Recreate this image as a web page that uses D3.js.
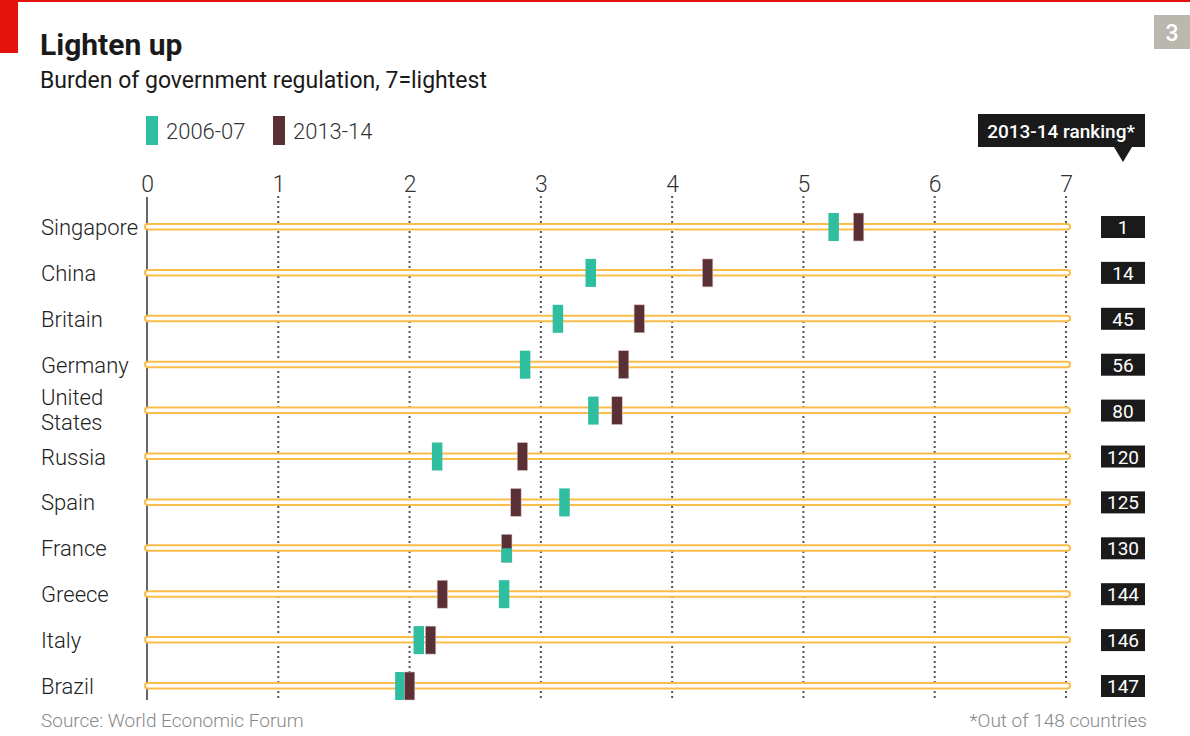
<!DOCTYPE html>
<html>
<head>
<meta charset="utf-8">
<script src="https://cdn.jsdelivr.net/npm/d3@7"></script>
<style>
  body { margin: 0; background: #fff; }
  svg text { font-family: Roboto, "Noto Sans", sans-serif; }
</style>
</head>
<body>
<div id="chart"></div>
<script>
// data
const countries = ["Singapore", "China", "Britain", "Germany", "United States", "Russia",
                   "Spain", "France", "Greece", "Italy", "Brazil"]
const score0607 = [5.23, 3.38, 3.13, 2.88, 3.40, 2.21, 3.18, 2.74, 2.72, 2.07, 1.93]
const score1314 = [5.42, 4.27, 3.75, 3.63, 3.58, 2.86, 2.81, 2.74, 2.25, 2.16, 2.00]
const ranking = [1, 14, 45, 56, 80, 120, 125, 130, 144, 146, 147]
const xTicks = [0, 1, 2, 3, 4, 5, 6, 7]

const W = 1190, H = 736
const teal = "#2fbfa0", brown = "#5a3035", track = "#fbbd4a"

const svg = d3.select("#chart").append("svg")
    .attr("width", W)
    .attr("height", H)

// header decorations
svg.append("rect").attr("x", 0).attr("y", 0).attr("width", W).attr("height", 2).attr("fill", "#e3120b")
svg.append("rect").attr("x", 0).attr("y", 0).attr("width", 18).attr("height", 53).attr("fill", "#e3120b")
svg.append("rect").attr("x", 1154).attr("y", 15).attr("width", 36).attr("height", 34).attr("fill", "#b9b7ae")
svg.append("text").attr("x", 1172).attr("y", 41).attr("text-anchor", "middle")
    .attr("fill", "#fff").style("font-size", "23px").style("font-weight", 500).text("3")

svg.append("text").attr("x", 40).attr("y", 55)
    .style("font-size", "30px").style("font-weight", "bold").attr("fill", "#1a1a1a")
    .text("Lighten up")
svg.append("text").attr("x", 40).attr("y", 88)
    .style("font-size", "23px").attr("fill", "#1a1a1a")
    .text("Burden of government regulation, 7=lightest")

// legend
const legend = [{label: "2006-07", color: teal, x: 146}, {label: "2013-14", color: brown, x: 273}]
legend.forEach(l => {
    svg.append("rect").attr("x", l.x).attr("y", 116).attr("width", 12).attr("height", 29).attr("fill", l.color)
    svg.append("text").attr("x", l.x + 20).attr("y", 139).style("font-size", "22px")
        .style("font-weight", 300).attr("fill", "#333").text(l.label)
})

// ranking header box
svg.append("rect").attr("x", 978).attr("y", 114).attr("width", 167).attr("height", 33).attr("fill", "#1a1a1a")
svg.append("path").attr("d", "M1114,147 L1132,147 L1123,162 Z").attr("fill", "#1a1a1a")
svg.append("text").attr("x", 1061).attr("y", 138).attr("text-anchor", "middle")
    .attr("fill", "#fff").style("font-size", "19px").style("font-weight", 500)
    .text("2013-14 ranking*")

// scales
const x = d3.scaleLinear().domain([0, 7]).range([147, 1066])
const y = d3.scalePoint().domain(countries).range([227, 686])

// grid lines
svg.append("g").selectAll("line")
    .data(xTicks.filter(d => d > 0))
    .join("line")
    .attr("x1", d => x(d)).attr("x2", d => x(d))
    .attr("y1", 196).attr("y2", 698)
    .attr("stroke", "#555").attr("stroke-width", 2)
    .attr("stroke-dasharray", "2,3")

// top axis labels
const xAxis = svg.append("g")
    .attr("transform", "translate(0,192)")
    .call(d3.axisTop(x).tickValues(xTicks).tickFormat(d3.format("d")).tickSize(0).tickPadding(0))
xAxis.select(".domain").remove()
xAxis.selectAll("text").style("font-size", "23px").attr("fill", "#333")
    .style("font-family", "Roboto, sans-serif").style("font-weight", 300)

// baseline at zero
svg.append("line").attr("x1", x(0)).attr("x2", x(0)).attr("y1", 197).attr("y2", 700)
    .attr("stroke", "#333").attr("stroke-width", 1.5)

// tracks
svg.append("g").selectAll("rect")
    .data(countries)
    .join("rect")
    .attr("x", x(0) - 2).attr("y", d => y(d) - 3)
    .attr("width", x(7) - x(0) + 6).attr("height", 5.5)
    .attr("rx", 2.75)
    .attr("fill", "#fff").attr("stroke", track).attr("stroke-width", 2)

// country labels
const lab = svg.append("g").selectAll("text")
    .data(countries)
    .join("text")
    .attr("x", 41)
    .attr("y", d => y(d) + 8)
    .style("font-size", "22px").attr("fill", "#222")
    .style("font-weight", 300)
lab.each(function (d) {
    const t = d3.select(this)
    if (d === "United States") {
        t.attr("y", y(d) - 6)
        t.append("tspan").attr("x", 41).text("United")
        t.append("tspan").attr("x", 41).attr("dy", 25).text("States")
    } else {
        t.text(d)
    }
})

// markers
const bw = 10.5, bh = 28
const pairs = countries.map((c, i) => ({c, a: score0607[i], b: score1314[i]}))
svg.append("g").selectAll("rect")
    .data(pairs)
    .join("rect")
    .attr("x", d => x(d.a) - bw / 2).attr("y", d => y(d.c) - bh / 2)
    .attr("width", bw).attr("height", bh).attr("fill", teal)
svg.append("g").selectAll("rect")
    .data(pairs)
    .join("rect")
    .attr("x", d => x(d.b) - bw / 2).attr("y", d => y(d.c) - bh / 2)
    .attr("width", bw).attr("height", bh).attr("fill", brown)
    .attr("stroke", "#d9c9c9").attr("stroke-width", 0.6)
// where both years coincide, the older marker shows through on the lower half
svg.append("g").selectAll("rect")
    .data(pairs.filter(d => Math.abs(d.a - d.b) < 0.01))
    .join("rect")
    .attr("x", d => x(d.a) - bw / 2).attr("y", d => y(d.c))
    .attr("width", bw).attr("height", bh / 2).attr("fill", teal)

// ranking boxes
const rk = svg.append("g").selectAll("g")
    .data(countries.map((c, i) => ({c, r: ranking[i]})))
    .join("g")
    .attr("transform", d => `translate(1101,${y(d.c) - 11})`)
rk.append("rect").attr("width", 44).attr("height", 22).attr("fill", "#1a1a1a")
rk.append("text").attr("x", 22).attr("y", 18).attr("text-anchor", "middle")
    .attr("fill", "#fff").style("font-size", "19px")
    .text(d => d.r)

// footer
svg.append("text").attr("x", 41).attr("y", 727).style("font-size", "19px").attr("fill", "#888")
    .style("font-weight", 300)
    .text("Source: World Economic Forum")
svg.append("text").attr("x", 1147).attr("y", 727).attr("text-anchor", "end")
    .style("font-size", "19px").attr("fill", "#888").style("font-weight", 300)
    .text("*Out of 148 countries")
</script>
</body>
</html>
